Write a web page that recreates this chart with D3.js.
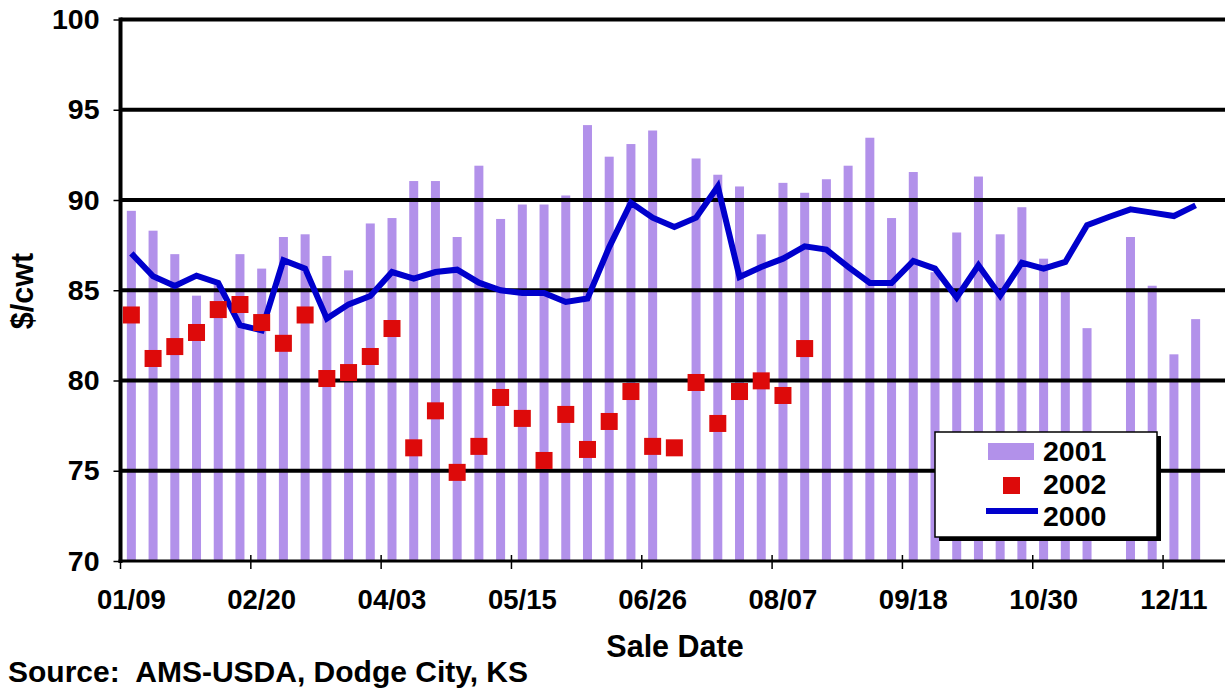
<!DOCTYPE html>
<html>
  <head>
    <meta charset="utf-8">
    <title>Dodge City weekly prices</title>
    <script src="https://cdn.jsdelivr.net/npm/d3@7"></script>
    <style>
      body { margin: 0; background: #fff; }
      svg { display: block; font-family: Arial, "Liberation Sans", sans-serif; font-weight: bold; }
      text { fill: #000; }
    </style>
  </head>

  <body>
    <svg id="chart" width="1225" height="689"></svg>

    <script>
      // weekly sale dates (the chart runs past the right edge)
      weeks = ["01/09", "01/16", "01/23", "01/30", "02/06", "02/13", "02/20", "02/27",
        "03/06", "03/13", "03/20", "03/27", "04/03", "04/10", "04/17", "04/24",
        "05/01", "05/08", "05/15", "05/22", "05/29", "06/05", "06/12", "06/19",
        "06/26", "07/03", "07/10", "07/17", "07/24", "07/31", "08/07", "08/14",
        "08/21", "08/28", "09/04", "09/11", "09/18", "09/25", "10/02", "10/09",
        "10/16", "10/23", "10/30", "11/06", "11/13", "11/20", "11/27", "12/04",
        "12/11", "12/18", "12/25", "01/01"];
      tickLabels = ["01/09", "02/20", "04/03", "05/15", "06/26", "08/07", "09/18", "10/30", "12/11"];
      yTicks = [70, 75, 80, 85, 90, 95, 100];

      // $/cwt by week
      prices2001 = [89.4, 88.3, 87.0, 84.7, 85.3, 87.0, 86.2, 87.95, 88.1, 86.9,
        86.1, 88.7, 89.0, 91.05, 91.05, 87.95, 91.9, 88.95, 89.75, 89.75,
        90.25, 94.15, 92.4, 93.1, 93.85, null, 92.3, 91.4, 90.75, 88.1,
        90.95, 90.4, 91.15, 91.9, 93.45, 89.0, 91.55, 86.0, 88.2, 91.3,
        88.1, 89.6, 86.75, 85.0, 82.9, null, 87.95, 85.25, 81.45, 83.4];
      prices2002 = [83.63, 81.22, 81.88, 82.66, 83.93, 84.21, 83.21, 82.06, 83.63, 80.11,
        80.44, 81.33, 82.88, 76.27, 78.32, 74.91, 76.35, 79.06, 77.9, 75.57,
        78.12, 76.18, 77.73, 79.39, 76.35, 76.27, 79.89, 77.62, 79.39, 79.98,
        79.17, 81.77];
      prices2000 = [87.04, 85.77, 85.24, 85.81, 85.4, 83.06, 82.78, 86.66, 86.2, 83.43,
        84.22, 84.68, 86.01, 85.64, 86.01, 86.14, 85.42, 85.0, 84.85, 84.85,
        84.35, 84.54, 87.39, 89.85, 89.02, 88.5, 89.02, 90.75, 85.73, 86.29,
        86.75, 87.43, 87.25, 86.29, 85.4, 85.4, 86.62, 86.2, 84.6, 86.38,
        84.7, 86.53, 86.2, 86.57, 88.6, 89.06, 89.48, 89.3, 89.11, 89.7];

      barColour = "#b291ea";
      squareColour = "#dd0a0a";
      lineColour = "#0000cc";

      svg = d3.select("#chart");
      left = 120.5;
      top_ = 19.5;
      bottom = 561;
      catW = 21.72;

      x = d3.scaleBand()
        .domain(weeks)
        .range([left, left + weeks.length * catW]);
      y = d3.scaleLinear()
        .domain([70, 100])
        .range([bottom, top_]);
      mid = function(i) { return x(weeks[i]) + x.bandwidth() / 2; };

      // bars
      barW = 9;
      svg.append("g").selectAll("rect")
        .data(prices2001.map(function(v, i) { return {v: v, i: i}; })
          .filter(function(d) { return d.v != null; }))
        .enter().append("rect")
          .attr("x", function(d) { return mid(d.i) - barW / 2; })
          .attr("y", function(d) { return y(d.v); })
          .attr("width", barW)
          .attr("height", function(d) { return y(70) - y(d.v); })
          .attr("fill", barColour);

      // gridlines sit over the bars
      svg.append("g").selectAll("line")
        .data(yTicks.slice(1))
        .enter().append("line")
          .attr("x1", left)
          .attr("x2", 1260)
          .attr("y1", function(d) { return y(d); })
          .attr("y2", function(d) { return y(d); })
          .attr("stroke", "#000")
          .attr("stroke-width", 4);

      // y axis
      yAxis = svg.append("g")
        .attr("transform", "translate(" + left + ",0)")
        .call(d3.axisLeft(y).tickValues(yTicks).tickSize(7).tickPadding(14));
      yAxis.select(".domain").attr("stroke-width", 4).attr("d", "M0," + (top_ - 2) + "V" + (bottom + 2));
      yAxis.selectAll(".tick line").attr("stroke-width", 1.5);
      yAxis.selectAll(".tick text")
        .attr("font-size", 28.5)
        .attr("font-family", "Arial, 'Liberation Sans', sans-serif")
        .attr("font-weight", "bold")
        .attr("fill", "#000");

      // x axis
      svg.append("line")
        .attr("x1", left - 2).attr("x2", 1260)
        .attr("y1", bottom).attr("y2", bottom)
        .attr("stroke", "#000").attr("stroke-width", 3);
      svg.append("g").selectAll("line")
        .data(tickLabels)
        .enter().append("line")
          .attr("x1", function(d) { return x(d); })
          .attr("x2", function(d) { return x(d); })
          .attr("y1", bottom - 6)
          .attr("y2", bottom + 8)
          .attr("stroke", "#000")
          .attr("stroke-width", 1.5);
      xAxis = svg.append("g")
        .attr("transform", "translate(0," + bottom + ")")
        .call(d3.axisBottom(x).tickValues(tickLabels).tickSize(0).tickPadding(28));
      xAxis.select(".domain").remove();
      xAxis.selectAll(".tick text")
        .attr("font-size", 27.5)
        .attr("font-family", "Arial, 'Liberation Sans', sans-serif")
        .attr("font-weight", "bold")
        .attr("fill", "#000");

      // 2000 line
      line = d3.line()
        .x(function(d, i) { return mid(i); })
        .y(function(d) { return y(d); });
      svg.append("path")
        .datum(prices2000)
        .attr("d", line)
        .attr("fill", "none")
        .attr("stroke", lineColour)
        .attr("stroke-width", 6)
        .attr("stroke-linejoin", "miter");

      // 2002 squares
      sq = 17;
      svg.append("g").selectAll("rect")
        .data(prices2002)
        .enter().append("rect")
          .attr("x", function(d, i) { return mid(i) - sq / 2; })
          .attr("y", function(d) { return y(d) - sq / 2; })
          .attr("width", sq)
          .attr("height", sq)
          .attr("fill", squareColour);

      // axis titles and source
      svg.append("text")
        .attr("transform", "translate(33,291) rotate(-90)")
        .attr("text-anchor", "middle")
        .attr("font-size", 30.5)
        .text("$/cwt");
      svg.append("text")
        .attr("x", 675)
        .attr("y", 657)
        .attr("text-anchor", "middle")
        .attr("font-size", 30.5)
        .text("Sale Date");
      svg.append("text")
        .attr("x", 8)
        .attr("y", 682)
        .attr("font-size", 30)
        .text("Source:  AMS-USDA, Dodge City, KS")
        .attr("xml:space", "preserve")
        .style("white-space", "pre");

      // legend
      legend = svg.append("g");
      legend.append("rect")
        .attr("x", 939).attr("y", 436)
        .attr("width", 222).attr("height", 105)
        .attr("fill", "#000");
      legend.append("rect")
        .attr("x", 935).attr("y", 432)
        .attr("width", 222).attr("height", 105)
        .attr("fill", "#fff")
        .attr("stroke", "#000")
        .attr("stroke-width", 1.5);
      legend.append("rect")
        .attr("x", 988).attr("y", 443)
        .attr("width", 46).attr("height", 17)
        .attr("fill", barColour);
      legend.append("rect")
        .attr("x", 1003).attr("y", 477)
        .attr("width", sq).attr("height", sq)
        .attr("fill", squareColour);
      legend.append("line")
        .attr("x1", 986).attr("x2", 1038)
        .attr("y1", 511).attr("y2", 511)
        .attr("stroke", lineColour)
        .attr("stroke-width", 6);
      legend.selectAll(".key")
        .data(["2001", "2002", "2000"])
        .enter().append("text")
          .classed("key", true)
          .attr("x", 1043)
          .attr("y", function(d, i) { return 461 + i * 32.5; })
          .attr("font-size", 28.5)
          .text(function(d) { return d; });
    </script>
  </body>
</html>
